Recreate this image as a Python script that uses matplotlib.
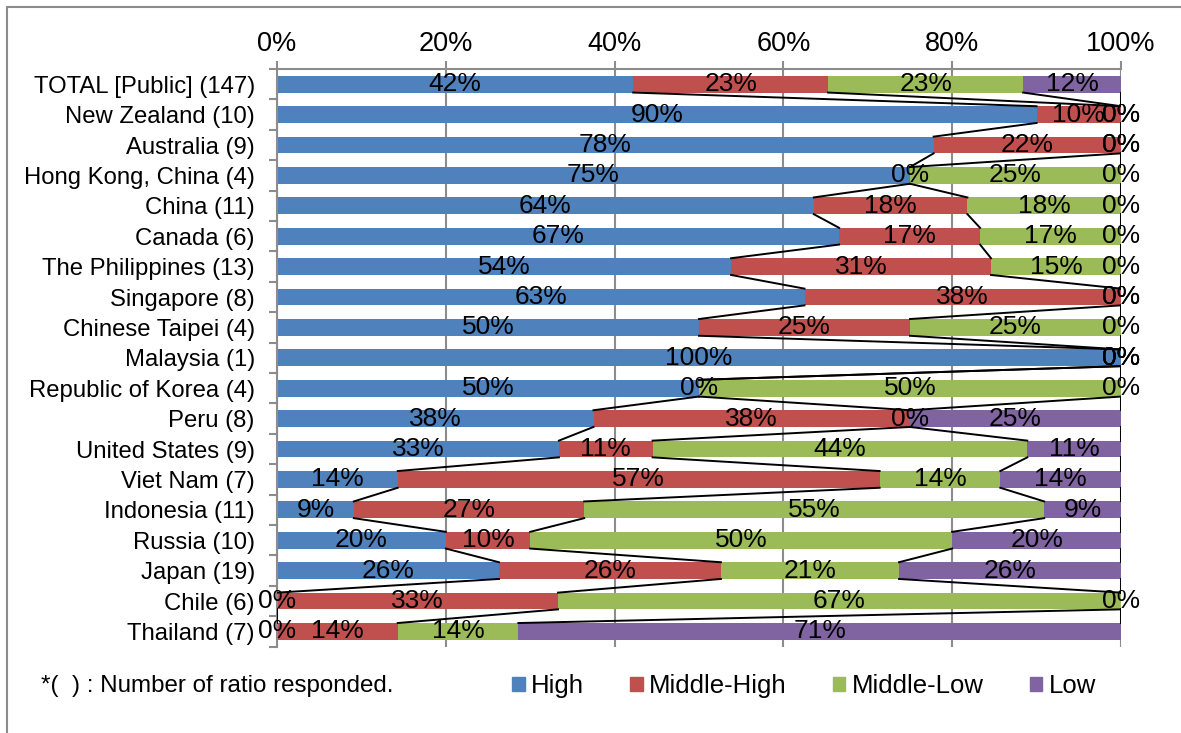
import matplotlib.pyplot as plt
from matplotlib.patches import Patch, Rectangle

plt.rcParams['font.family'] = ['Liberation Sans', 'DejaVu Sans']

# data: share (%) per rating level
economies = ['TOTAL [Public] (147)', 'New Zealand (10)', 'Australia (9)', 'Hong Kong, China (4)',
             'China (11)', 'Canada (6)', 'The Philippines (13)', 'Singapore (8)',
             'Chinese Taipei (4)', 'Malaysia (1)', 'Republic of Korea (4)', 'Peru (8)',
             'United States (9)', 'Viet Nam (7)', 'Indonesia (11)', 'Russia (10)',
             'Japan (19)', 'Chile (6)', 'Thailand (7)']
high        = [42.2, 90, 77.8, 75, 63.6, 66.6, 53.8, 62.5, 50, 100, 50, 37.5, 33.4, 14.3, 9.1, 20, 26.3, 0, 0]
middle_high = [23.1, 10, 22.2, 0, 18.2, 16.7, 30.8, 37.5, 25, 0, 0, 37.5, 11.1, 57.1, 27.3, 10, 26.3, 33.3, 14.3]
middle_low  = [23.1, 0, 0, 25, 18.2, 16.7, 15.4, 0, 25, 0, 50, 0, 44.4, 14.3, 54.5, 50, 21.1, 66.7, 14.3]
low         = [11.6, 0, 0, 0, 0, 0, 0, 0, 0, 0, 0, 25, 11.1, 14.3, 9.1, 20, 26.3, 0, 71.4]
series_names = ['High', 'Middle-High', 'Middle-Low', 'Low']
colors = ['#4F81BD', '#C0504D', '#9BBB59', '#8064A2']
ticks = [0, 20, 40, 60, 80, 100]

series = [high, middle_high, middle_low, low]
n = len(economies)
bar_h = 0.55
grey = '#8C8C8C'

fig = plt.figure(figsize=(11.81, 7.33), dpi=100)
ax = fig.add_axes([277 / 1181, 1 - 646.6 / 733, 844 / 1181, 577.6 / 733])

# outer chart frame (partly cut off in the original)
fig.patches.append(Rectangle((7 / 1181, -0.1), 1.2, 1 - 7 / 733 + 0.1, transform=fig.transFigure,
                             fill=False, edgecolor=grey, lw=1.5))

ypos = list(range(n))
left = [0.0] * n
ends = []
for vals, col in zip(series, colors):
    ax.barh(ypos, vals, left=left, height=bar_h, color=col, zorder=2)
    for i, v in enumerate(vals):
        ax.text(left[i] + v / 2, i, f'{int(v + 0.5)}%', ha='center', va='center',
                fontsize=19, zorder=5)
    left = [l + v for l, v in zip(left, vals)]
    ends.append(list(left))

# series lines between neighbouring bars
for e in ends:
    for i in range(n - 1):
        ax.plot([e[i], e[i + 1]], [i + bar_h / 2, i + 1 - bar_h / 2], color='black', lw=1.4, zorder=3)

ax.set_xlim(0, 100)
ax.set_ylim(n - 0.5, -0.5)
ax.xaxis.tick_top()
ax.set_xticks(ticks)
ax.set_xticklabels([f'{t}%' for t in ticks], fontsize=19.5)
ax.tick_params(axis='x', length=6, width=1.5, color=grey, pad=3)
ax.set_yticks(ypos)
ax.set_yticklabels(economies, fontsize=17.2)
ax.set_yticks([i + 0.5 for i in range(-1, n)], minor=True)
ax.tick_params(axis='y', which='major', length=0, pad=16)
ax.tick_params(axis='y', which='minor', length=6, width=1.5, color=grey)
ax.grid(axis='x', color=grey, lw=1.5, zorder=0)
for s in ['right', 'bottom']:
    ax.spines[s].set_visible(False)
for s in ['top', 'left']:
    ax.spines[s].set_color(grey)
    ax.spines[s].set_linewidth(1.5)

fig.text(41 / 1181, 1 - 686 / 733, '*(  ) : Number of ratio responded.', fontsize=17.4, va='center')
handles = [Patch(color=c, label=s) for s, c in zip(series_names, colors)]
fig.legend(handles=handles, ncol=4, loc='center left', bbox_to_anchor=(512 / 1181, 1 - 686 / 733),
           frameon=False, fontsize=18.5, handlelength=0.5, handleheight=0.5, handletextpad=0.23,
           columnspacing=1.8, borderpad=0, borderaxespad=0)

fig.savefig('out.png', dpi=100)
